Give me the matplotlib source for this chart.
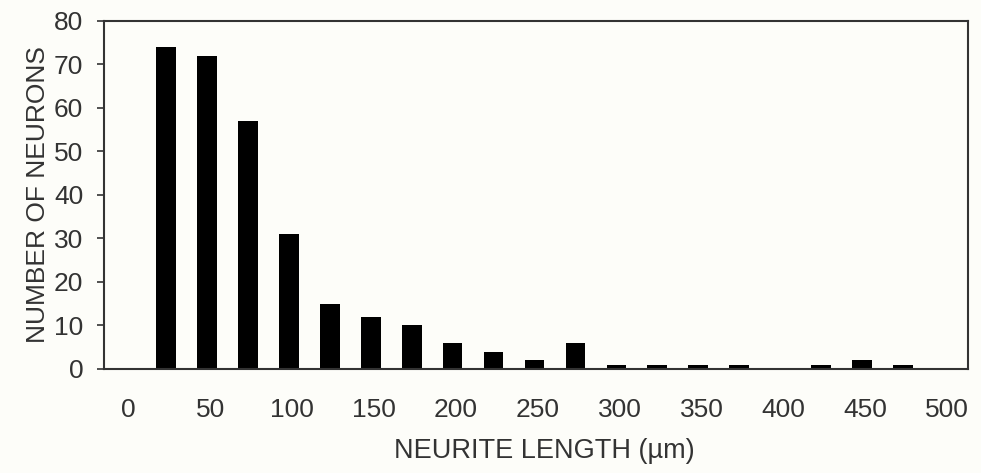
import numpy as np
import matplotlib.pyplot as plt

plt.rcParams["font.family"] = ["Liberation Sans", "DejaVu Sans"]

# histogram bins (um) and counts
bin_centers = [25, 50, 75, 100, 125, 150, 175, 200, 225, 250, 275,
               300, 325, 350, 375, 400, 425, 450, 475]
counts = [74, 72, 57, 31, 15, 12, 10, 6, 4, 2, 6,
          1, 1, 1, 1, 0, 1, 2, 1]
x_ticks = list(range(0, 501, 50))
y_ticks = list(range(0, 81, 10))

bg = "#fdfdf9"
txt = "#333333"

fig = plt.figure(figsize=(9.81, 4.73), dpi=100, facecolor=bg)
ax = fig.add_axes([0.106, 0.220, 0.881, 0.736])
ax.set_facecolor(bg)

ax.bar(np.array(bin_centers) - 2, counts, width=12, color="black")

ax.set_xlim(-15, 513)
ax.set_ylim(0, 80)
ax.set_xticks(x_ticks)
ax.set_yticks(y_ticks)

for s in ax.spines.values():
    s.set_color("#333333")
    s.set_linewidth(1.5)

ax.tick_params(axis="x", length=0, pad=21, labelsize=19, labelcolor=txt)
ax.tick_params(axis="y", length=5, width=1.2, color="#333333", pad=10,
               labelsize=19, labelcolor=txt)

ax.set_xlabel("NEURITE LENGTH (µm)", fontsize=19.5, color=txt)
ax.xaxis.set_label_coords(0.509, -0.198)
ax.set_ylabel("NUMBER OF NEURONS", fontsize=19, color=txt, labelpad=3)

fig.savefig("out.png", dpi=100, facecolor=bg)
